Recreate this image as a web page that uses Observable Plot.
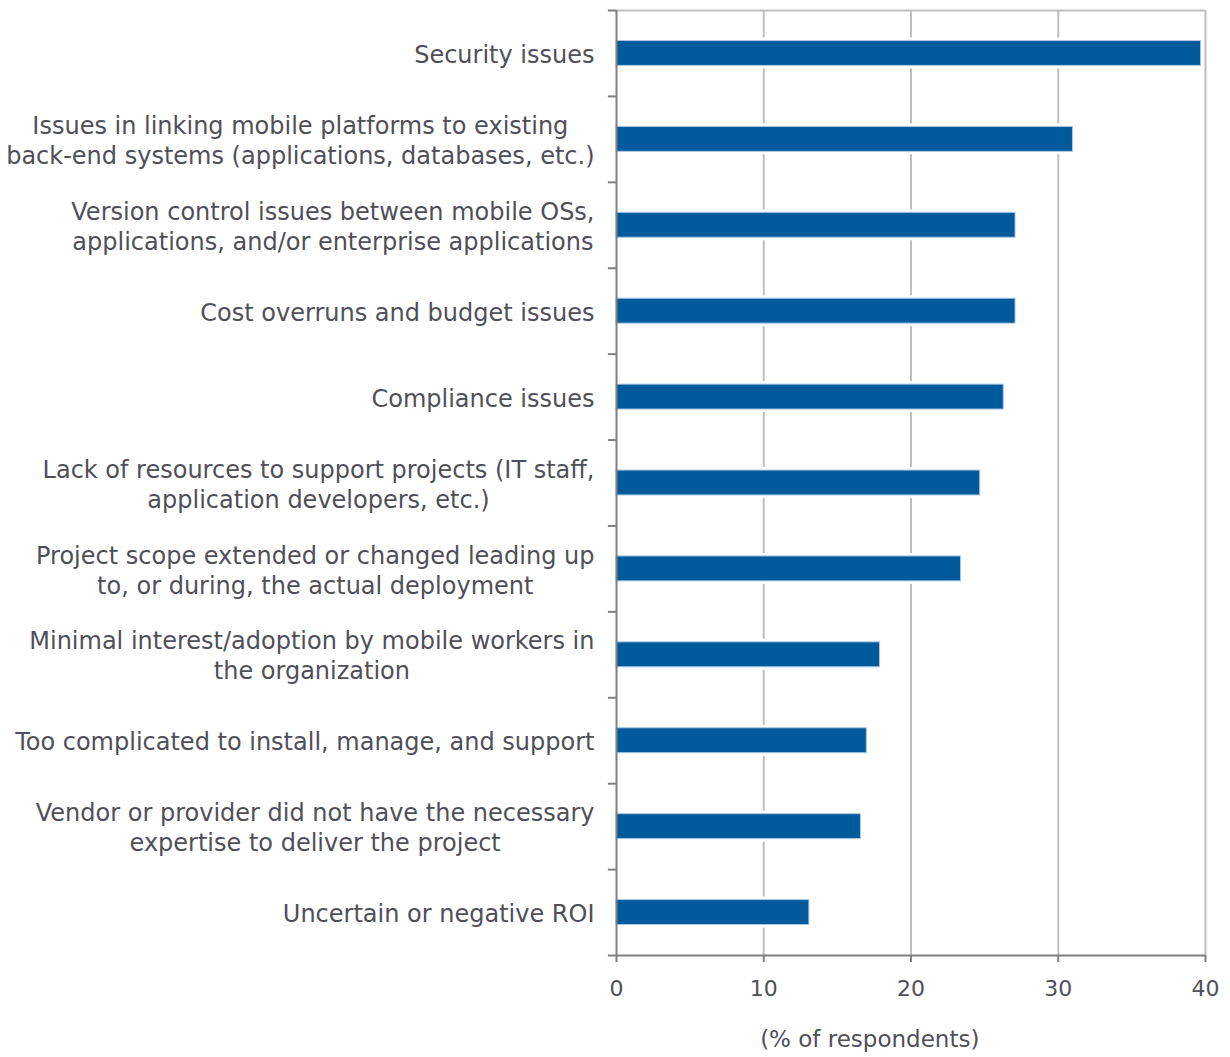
<!DOCTYPE html>
<html>
<head>
<meta charset="utf-8">
<script src="https://cdn.jsdelivr.net/npm/d3@7"></script>
<script src="https://cdn.jsdelivr.net/npm/@observablehq/plot@0.6"></script>
<style>
  html, body { margin: 0; padding: 0; background: #fff; }
  #chart svg { display: block; }
</style>
</head>
<body>
<div id="chart"></div>
<script>
const categories = [
  "Security issues",
  "Issues in linking mobile platforms to existing\nback-end systems (applications, databases, etc.)",
  "Version control issues between mobile OSs,\napplications, and/or enterprise applications",
  "Cost overruns and budget issues",
  "Compliance issues",
  "Lack of resources to support projects (IT staff,\napplication developers, etc.)",
  "Project scope extended or changed leading up\nto, or during, the actual deployment",
  "Minimal interest/adoption by mobile workers in\nthe organization",
  "Too complicated to install, manage, and support",
  "Vendor or provider did not have the necessary\nexpertise to deliver the project",
  "Uncertain or negative ROI"
];
const values = [39.7, 31.0, 27.1, 27.1, 26.3, 24.7, 23.4, 17.9, 17.0, 16.6, 13.1];
const xTicks = [0, 10, 20, 30, 40];
const gridTicks = [10, 20, 30, 40];
const xLabel = "(% of respondents)";

const data = categories.map((c, i) => ({category: c, value: values[i]}));

const W = 1230, H = 1057;
const mTop = 10, mBottom = 102, mLeft = 616, mRight = 25;
const bw = (H - mTop - mBottom) / categories.length;
const FONT = "'DejaVu Sans', sans-serif";
const textColor = "#4f4f58";

const plot = Plot.plot({
  width: W,
  height: H,
  marginTop: mTop,
  marginBottom: mBottom,
  marginLeft: mLeft,
  marginRight: mRight,
  style: {fontFamily: FONT, fontSize: "22px", color: textColor, background: "#fff"},
  x: {domain: [0, 40], axis: null},
  y: {domain: categories, paddingInner: 0.71, paddingOuter: 0.355, align: 0.5, round: false, axis: null},
  marks: [
    // gridlines and frame
    Plot.ruleX(gridTicks, {stroke: "#bfbfbf", strokeWidth: 2}),
    Plot.ruleY([categories[0]], {x1: 0, x2: 40, dy: -bw / 2, stroke: "#bfbfbf", strokeWidth: 2}),
    // white halo under bars, then bars
    Plot.barX(data, {y: "category", x: "value", fill: "white", stroke: "white", strokeWidth: 6}),
    Plot.barX(data, {y: "category", x: "value", fill: "#005a9c", stroke: "#a9c9e4", strokeWidth: 1}),
    // axes lines
    Plot.ruleX([0], {stroke: "#7f7f7f", strokeWidth: 2}),
    Plot.ruleY([categories[categories.length - 1]], {x1: 0, x2: 40, dy: bw / 2, stroke: "#7f7f7f", strokeWidth: 2}),
    // y tick marks at band boundaries
    Plot.ruleY(categories, {x1: 0, x2: -0.55, dy: -bw / 2, stroke: "#7f7f7f", strokeWidth: 2}),
    Plot.ruleY([categories[categories.length - 1]], {x1: 0, x2: -0.55, dy: bw / 2, stroke: "#7f7f7f", strokeWidth: 2}),
    // x axis
    Plot.axisX(xTicks, {tickSize: 7, tickPadding: 18, stroke: "#7f7f7f", strokeWidth: 2, fill: textColor, fontSize: 22, label: null}),
    // y labels
    Plot.text(data, {y: "category", text: "category", frameAnchor: "left", textAnchor: "end", dx: -22, lineHeight: 1.25, fill: textColor, fontSize: 24, className: "ylab"}),
    // x label
    Plot.text([xLabel], {x: [17.2], frameAnchor: "bottom", dy: 91, fill: textColor, fontSize: 23})
  ]
});

document.getElementById("chart").appendChild(plot);

// center multi-line labels within their right-aligned block
plot.querySelectorAll("g.ylab text").forEach(t => {
  const spans = t.querySelectorAll("tspan");
  if (spans.length < 2) return;
  let maxW = 0;
  spans.forEach(s => { maxW = Math.max(maxW, s.getComputedTextLength()); });
  t.setAttribute("text-anchor", "middle");
  spans.forEach(s => s.setAttribute("x", -maxW / 2));
});
</script>
</body>
</html>
